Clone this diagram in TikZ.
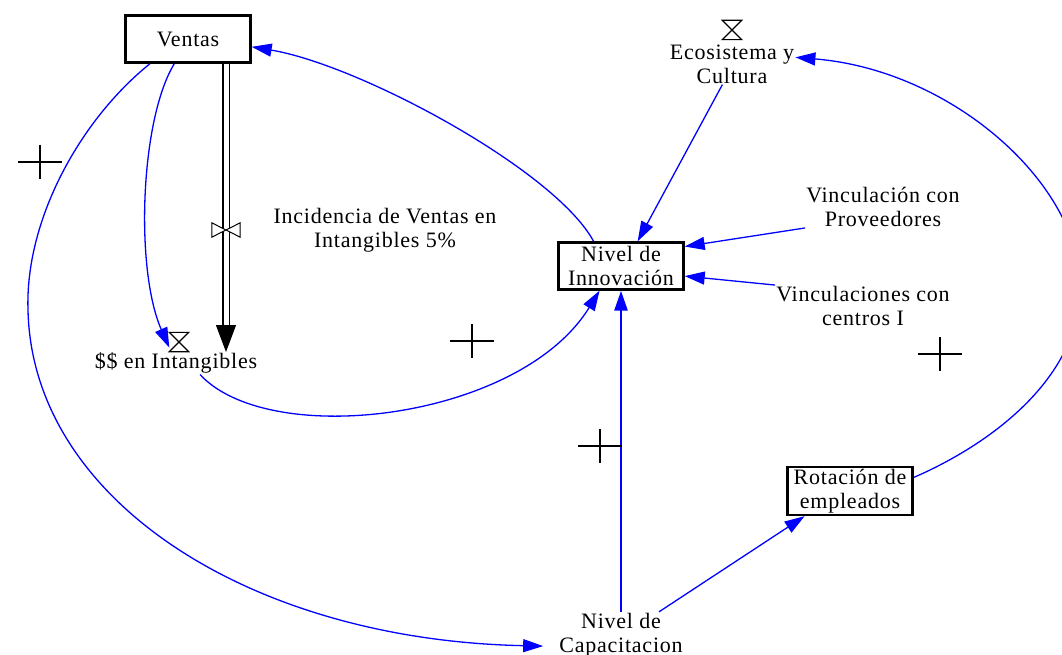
\documentclass[tikz,border=0pt]{standalone}
\usepackage{fontspec}
\setmainfont{Liberation Serif}[LetterSpace=3.5]
\usetikzlibrary{arrows.meta}

\tikzset{
    every node/.style={font=\fontsize{22}{24}\selectfont},
    box/.style={draw, line width=2.4pt, minimum width=125pt, minimum height=47pt, align=center, inner sep=2pt},
    lbl/.style={align=center, inner sep=1pt},
    glass/.style={minimum size=19pt, inner sep=0pt},
    valvebox/.style={minimum width=28pt, minimum height=14pt, inner sep=0pt},
    link/.style={blue, line width=1.3pt, -{Triangle[length=20pt,width=13pt]}},
    pipe/.style={double, double distance=5pt, line width=1.3pt},
    plus/.style={line width=2.6pt},
}

\begin{document}
\begin{tikzpicture}[x=1pt, y=-1pt]
    \useasboundingbox (0,0) rectangle (1062,655);

    %boxes and labels:
    \node[box] (ventas) at (188,39) {Ventas};
    \node[box] (innov) at (621,266) {Nivel de\\Innovación};
    \node[box] (rot) at (850,491) {Rotación de\\empleados};
    \node[lbl] (eco) at (732,64) {Ecosistema y\\Cultura};
    \node[lbl] (intang) at (176,363) {\$\$ en Intangibles};
    \node[lbl] (incid) at (385,230) {Incidencia de Ventas en\\Intangibles 5\%};
    \node[lbl] (prov) at (883,207) {Vinculación con\\Proveedores};
    \node[lbl] (centros) at (863,306) {Vinculaciones con\\centros I};
    \node[lbl] (capac) at (621,635) {Nivel de\\Capacitacion};

    %flow pipe with valve:
    \coordinate (flowtip) at (226,352);
    \draw[pipe] (ventas.south -| flowtip) -- ([yshift=26pt]flowtip);
    \draw[line width=1pt, -{Triangle[length=27pt,width=20pt]}] ([yshift=27pt]flowtip) -- (flowtip);
    \node[valvebox] (valve) at (226,230) {};
    \draw[fill=white, line width=1pt] (valve.north west) -- (valve.south east) -- (valve.north east) -- (valve.south west) -- cycle;

    %hourglasses:
    \node[glass] (glassint) at (179,342) {};
    \node[glass] (glasseco) at (732,30) {};
    \foreach \g in {glassint,glasseco}
        \draw[line width=1.1pt] (\g.north west) -- (\g.north east) -- (\g.south west) -- (\g.south east) -- cycle;

    %curved links:
    \draw[link] (innov.138) .. controls (555,170) and (360,65) .. (ventas.-7);
    \draw[link] (ventas.213) .. controls (80,120) and (25,220) .. (28,310)
        .. controls (32,500) and (250,640) .. ([xshift=-15pt]capac.190);
    \draw[link] (ventas.241) .. controls (140,120) and (135,270) .. (glassint.210);
    \draw[link] ([xshift=24pt]intang.south) .. controls (270,450) and (520,420) .. (innov.229);
    \draw[link] (rot.12) .. controls (1000,440) and (1085,370) .. (1080,280)
        .. controls (1075,180) and (950,70) .. (eco.6);

    %straight links:
    \draw[link] (eco.245) -- (innov.56);
    \draw[link] (prov.south west) -- (innov.17);
    \draw[link] (centros.north west) -- (innov.-9);
    \draw[link, line width=2.6pt] (capac) -- (innov);
    \draw[link] ([xshift=38pt]capac.north) -- (rot.209);

    %plus signs:
    \foreach \px/\py in {40/162, 472/341, 600/446, 940/354}
        \draw[plus] (\px,\py) +(-22,0) -- +(22,0) (\px,\py) +(0,-17) -- +(0,17);
\end{tikzpicture}
\end{document}
